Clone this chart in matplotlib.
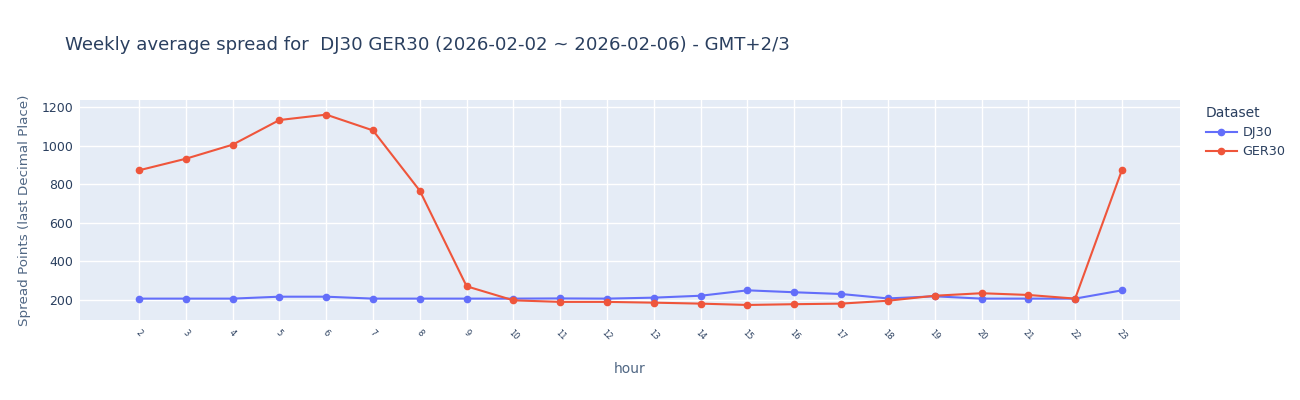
import matplotlib.pyplot as plt

# --- data ---
hours = [2, 3, 4, 5, 6, 7, 8, 9, 10, 11, 12, 13, 14, 15, 16, 17, 18, 19, 20, 21, 22, 23]
dj30 = [207, 207, 207, 217, 217, 207, 207, 207, 207, 208, 207, 212, 222, 250, 240, 231,
        208, 219, 207, 207, 207, 250]
ger30 = [873, 933, 1006, 1134, 1162, 1080, 767, 271, 198, 190, 190, 186, 181, 174, 178, 181,
         196, 222, 235, 226, 207, 875]
series_names = ["DJ30", "GER30"]
colors = ["#636EFA", "#EF553B"]

plt.rcParams['font.family'] = ['DejaVu Sans']
text_color = "#2a3f5f"

fig = plt.figure(figsize=(13, 4), dpi=100)
ax = fig.add_axes([80 / 1300, 1 - 320 / 400, 1100 / 1300, 220 / 400])
ax.set_facecolor("#E5ECF6")

for name, vals, c in zip(series_names, [dj30, ger30], colors):
    ax.plot(hours, vals, color=c, lw=1.5, marker="o", markersize=4.5, label=name, zorder=3)

ax.set_xlim(0.74, 24.24)
ax.set_ylim(96, 1238)
ax.set_xticks(hours)
ax.set_xticklabels([str(h) for h in hours], rotation=-45, ha="center", va="top",
                   fontsize=6, color=text_color)
ax.set_yticks([200, 400, 600, 800, 1000, 1200])
ax.tick_params(axis="y", labelsize=9, labelcolor=text_color, length=0, pad=5)
ax.tick_params(axis="x", length=0, pad=6)
ax.grid(True, color="white", lw=1)
ax.set_axisbelow(True)
for s in ax.spines.values():
    s.set_visible(False)

ax.set_xlabel("hour", fontsize=10, color="#506784", labelpad=14)
ax.set_ylabel("Spread Points (last Decimal Place)", fontsize=9.7, color="#506784", labelpad=7)

fig.text(65 / 1300, 1 - 45 / 400, "Weekly average spread for  DJ30 GER30 (2026-02-02 ~ 2026-02-06) - GMT+2/3",
         fontsize=13.1, color=text_color, va="center", ha="left")

leg = fig.legend(loc="upper left", bbox_to_anchor=(1201 / 1300, 1 - 101 / 400), frameon=False,
                 title="Dataset", fontsize=9.2, title_fontsize=10, handlelength=2.4,
                 handletextpad=0.45, labelcolor=text_color, alignment="left",
                 borderaxespad=0, labelspacing=0.48)
leg.get_title().set_color(text_color)

fig.savefig("out.png", dpi=100)
